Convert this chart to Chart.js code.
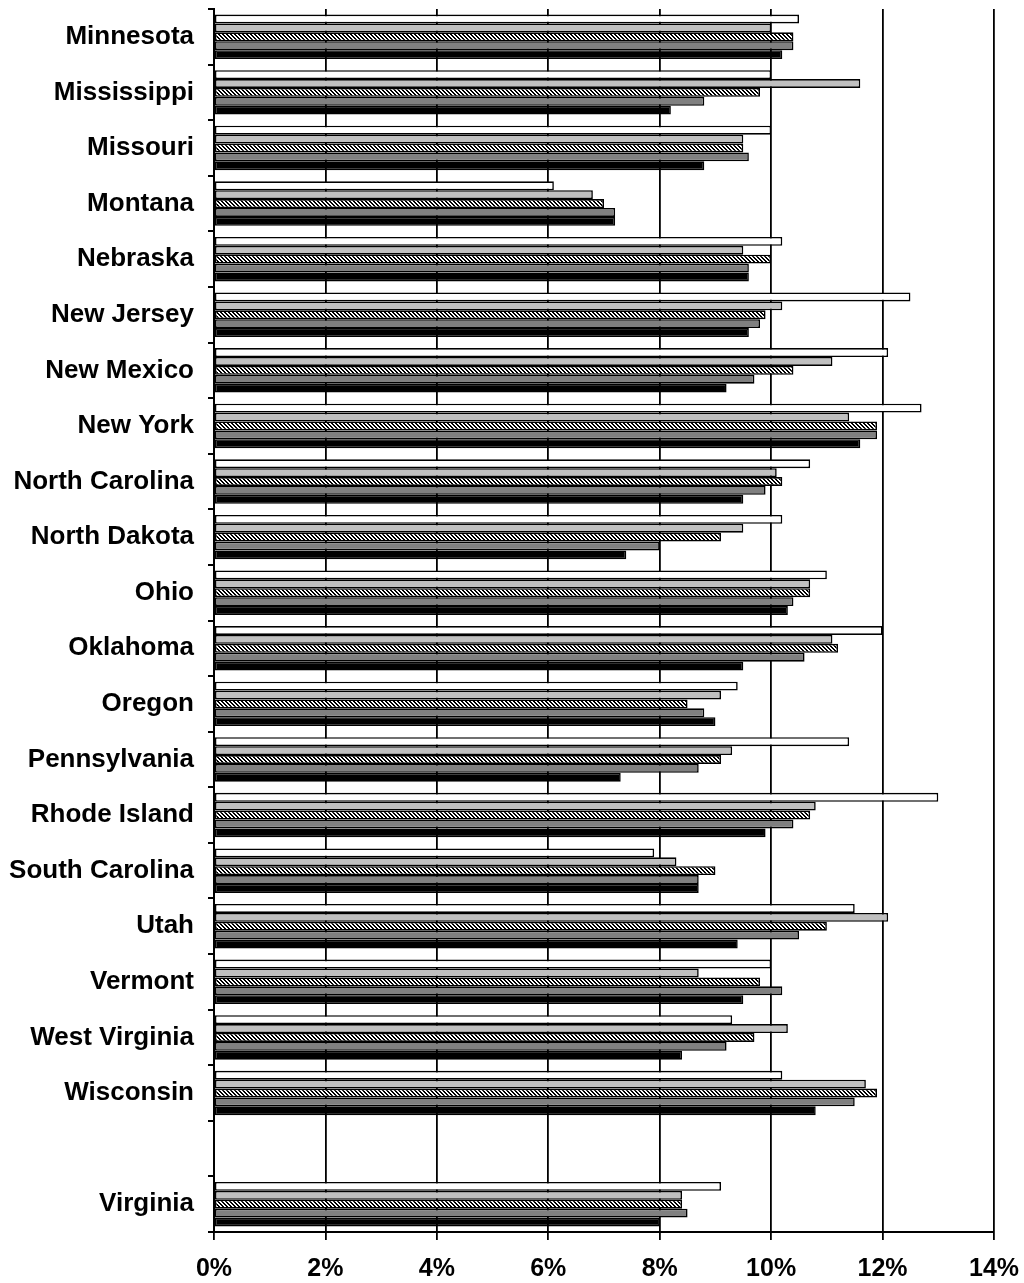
<!DOCTYPE html>
<html>
<head>
<meta charset="utf-8">
<script src="https://cdn.jsdelivr.net/npm/chart.js@4.4.1/dist/chart.umd.min.js"></script>
<style>
  html, body { margin: 0; padding: 0; background: #fff; }
  #wrap { width: 1024px; height: 1283px; }
</style>
</head>
<body>
<div id="wrap"><canvas id="myChart" width="1024" height="1283"></canvas></div>
<script>
// categories (blank slot separates Virginia from the others)
const states = ["Minnesota", "Mississippi", "Missouri", "Montana", "Nebraska", "New Jersey",
  "New Mexico", "New York", "North Carolina", "North Dakota", "Ohio", "Oklahoma", "Oregon",
  "Pennsylvania", "Rhode Island", "South Carolina", "Utah", "Vermont", "West Virginia",
  "Wisconsin", "", "Virginia"];

// series values, in percent
const seriesWhite = [10.5, 10.0, 10.0, 6.1, 10.2, 12.5, 12.1, 12.7, 10.7, 10.2, 11.0, 12.0, 9.4, 11.4, 13.0, 7.9, 11.5, 10.0, 9.3, 10.2, null, 9.1];
const seriesLight = [10.0, 11.6, 9.5, 6.8, 9.5, 10.2, 11.1, 11.4, 10.1, 9.5, 10.7, 11.1, 9.1, 9.3, 10.8, 8.3, 12.1, 8.7, 10.3, 11.7, null, 8.4];
const seriesHatch = [10.4, 9.8, 9.5, 7.0, 10.0, 9.9, 10.4, 11.9, 10.2, 9.1, 10.7, 11.2, 8.5, 9.1, 10.7, 9.0, 11.0, 9.8, 9.7, 11.9, null, 8.4];
const seriesMid   = [10.4, 8.8, 9.6, 7.2, 9.6, 9.8, 9.7, 11.9, 9.9, 8.0, 10.4, 10.6, 8.8, 8.7, 10.4, 8.7, 10.5, 10.2, 9.2, 11.5, null, 8.5];
const seriesBlack = [10.2, 8.2, 8.8, 7.2, 9.6, 9.6, 9.2, 11.6, 9.5, 7.4, 10.3, 9.5, 9.0, 7.3, 9.9, 8.7, 9.4, 9.5, 8.4, 10.8, null, 8.0];

// x axis ticks
const xMin = 0, xMax = 14, xStep = 2;

const ctx = document.getElementById("myChart").getContext("2d");

// diagonal hatch fill, black and white stripes 2px each
function makeHatch() {
  const pc = document.createElement("canvas");
  pc.width = 4; pc.height = 4;
  const g = pc.getContext("2d");
  g.fillStyle = "#fff";
  g.fillRect(0, 0, 4, 4);
  g.fillStyle = "#000";
  for (let y = 0; y < 4; y++) {
    for (let x = 0; x < 4; x++) {
      const d = ((x - y) % 4 + 4) % 4;
      if (d < 2) g.fillRect(x, y, 1, 1);
    }
  }
  return ctx.createPattern(pc, "repeat");
}

function ds(data, fill) {
  return {
    data: data,
    backgroundColor: fill,
    borderColor: "#000",
    borderWidth: 1.6,
    borderSkipped: false,
    categoryPercentage: 0.8,
    barPercentage: 1.0
  };
}

const fam = "'Liberation Sans', Arial, sans-serif";

new Chart(ctx, {
  type: "bar",
  data: {
    labels: states,
    datasets: [
      ds(seriesWhite, "#ffffff"),
      ds(seriesLight, "#c0c0c0"),
      ds(seriesHatch, makeHatch()),
      ds(seriesMid, "#808080"),
      ds(seriesBlack, "#000000")
    ]
  },
  options: {
    indexAxis: "y",
    responsive: false,
    animation: false,
    devicePixelRatio: 1,
    layout: { padding: { left: 0, right: 30, top: 9, bottom: 0 } },
    plugins: { legend: { display: false }, tooltip: { enabled: false } },
    scales: {
      x: {
        min: xMin,
        max: xMax,
        ticks: {
          stepSize: xStep,
          color: "#000",
          font: { family: fam, weight: "bold", size: 25 },
          padding: 14,
          maxRotation: 0,
          callback: (v) => v + "%"
        },
        grid: { color: "#000", lineWidth: 1.8, tickLength: 8 },
        border: { color: "#000", width: 2 },
        afterFit: (s) => { s.height = 51; s.paddingLeft = 0; s.paddingRight = 0; }
      },
      y: {
        ticks: { color: "#000", font: { family: fam, weight: "bold", size: 26 }, padding: 14, autoSkip: false },
        grid: { drawOnChartArea: false, drawTicks: true, tickLength: 6, color: "#000", lineWidth: 2 },
        border: { color: "#000", width: 2 },
        afterFit: (s) => { s.width = 214; s.paddingTop = 0; s.paddingBottom = 0; }
      }
    }
  }
});
</script>
</body>
</html>
